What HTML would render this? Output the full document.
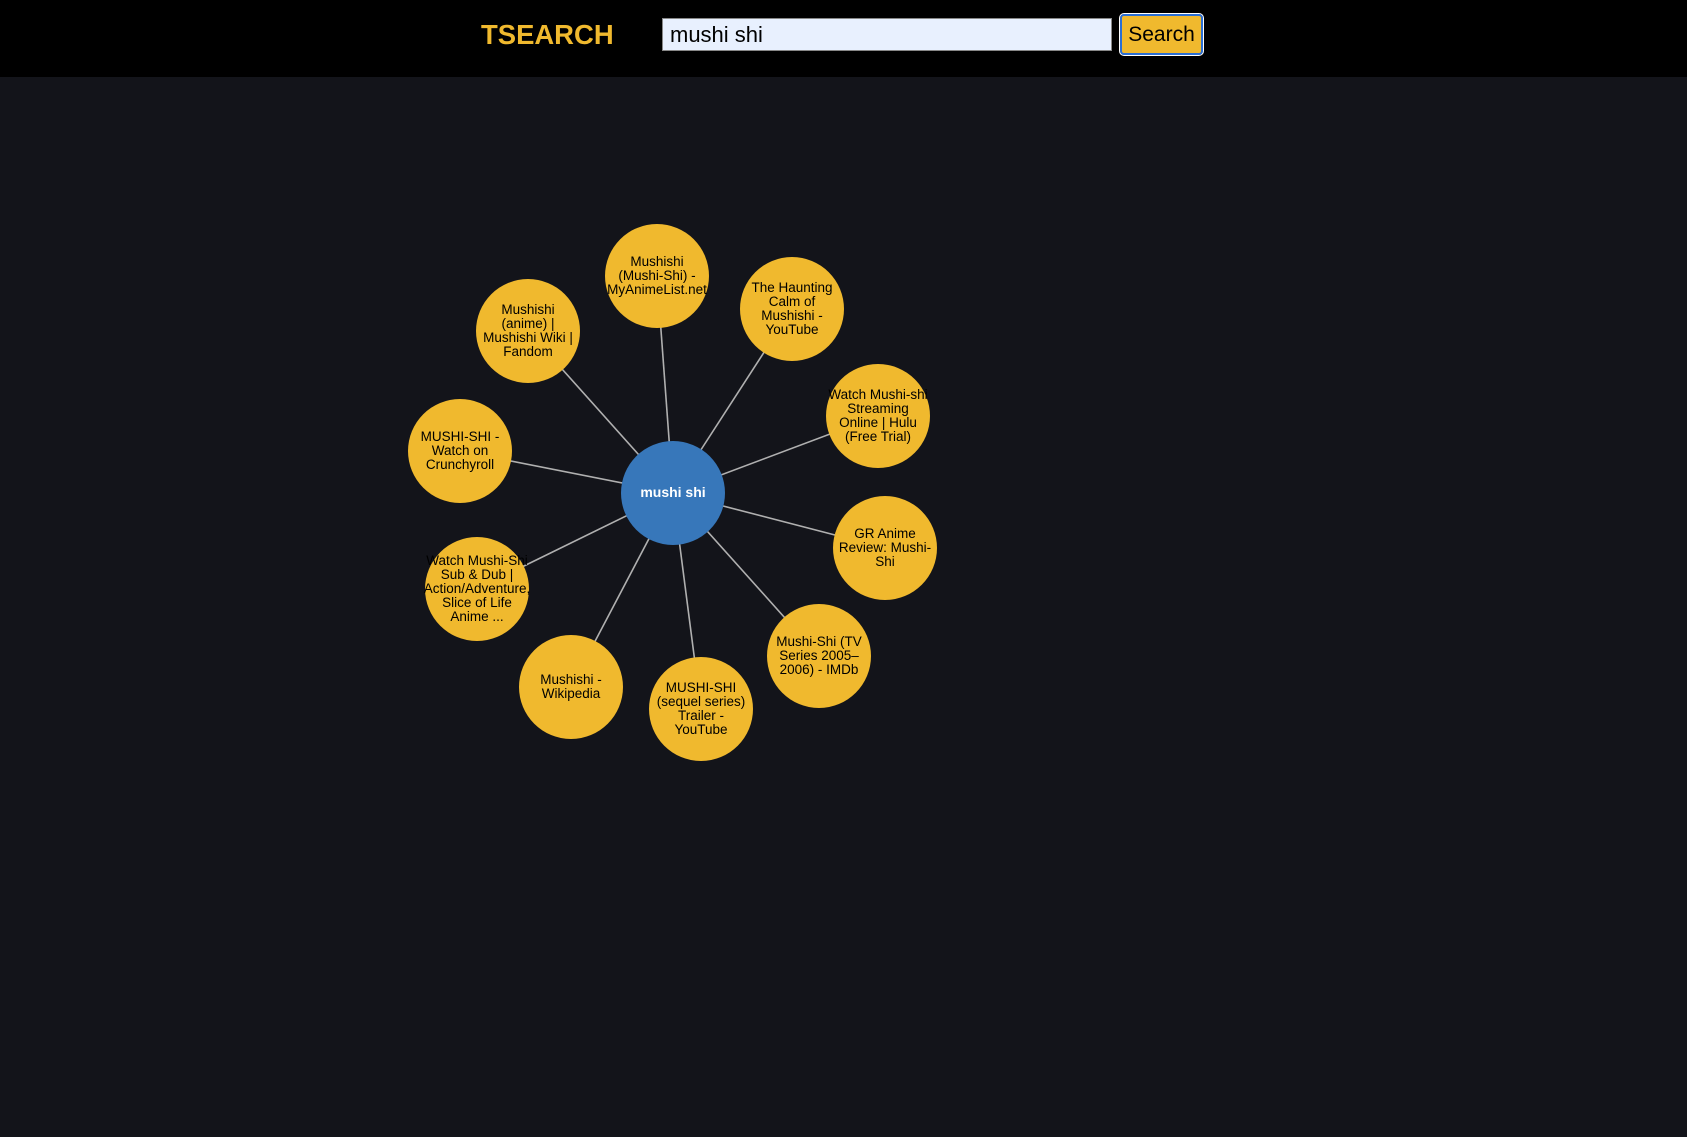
<!DOCTYPE html>
<html><head><meta charset="utf-8">
<style>
html,body{margin:0;padding:0;width:1687px;height:1137px;background:#13141a;overflow:hidden;font-family:"Liberation Sans",Arial,sans-serif;}
#hdr{position:absolute;left:0;top:0;width:1687px;height:77px;background:#000;}
#logo{position:absolute;left:481px;top:19px;font-size:28px;font-weight:bold;color:#f0b92e;transform:scaleX(0.98);transform-origin:left top;}
#q{position:absolute;left:662px;top:18px;width:450px;height:33px;box-sizing:border-box;border:1px solid #888;background:#e8f0fe;font-size:22px;padding:2px 7px;color:#000;font-family:"Liberation Sans",sans-serif;}
#btn{position:absolute;left:1120px;top:14px;width:83px;height:41px;box-sizing:border-box;border:2px solid #2a6ed4;outline:1px solid #fff;border-radius:4px;background:#f0b92e;font-size:21px;color:#000;font-family:"Liberation Sans",sans-serif;padding:0;}
svg{position:absolute;left:0;top:0;}
</style></head><body>
<div id="hdr">
<div id="logo">TSEARCH</div>
<input id="q" value="mushi shi">
<button id="btn">Search</button>
</div>
<svg id="g" width="1687" height="1137"></svg>
<script>
const centerLabel = "mushi shi";
const centerPos = [673, 493];
const labels = [
 ["Mushishi","(Mushi-Shi) -","MyAnimeList.net"],
 ["The Haunting","Calm of","Mushishi -","YouTube"],
 ["Watch Mushi-shi","Streaming","Online | Hulu","(Free Trial)"],
 ["GR Anime","Review: Mushi-","Shi"],
 ["Mushi-Shi (TV","Series 2005–","2006) - IMDb"],
 ["MUSHI-SHI","(sequel series)","Trailer -","YouTube"],
 ["Mushishi -","Wikipedia"],
 ["Watch Mushi-Shi","Sub & Dub |","Action/Adventure,","Slice of Life","Anime ..."],
 ["MUSHI-SHI -","Watch on","Crunchyroll"],
 ["Mushishi","(anime) |","Mushishi Wiki |","Fandom"]
];
const nodeX = [657,792,878,885,819,701,571,477,460,528];
const nodeY = [276,309,416,548,656,709,687,589,451,331];
const NS="http://www.w3.org/2000/svg";
const svg=document.getElementById('g');
const R=52;
function mk(t,a){const e=document.createElementNS(NS,t);for(const k in a)e.setAttribute(k,a[k]);return e;}
for(let i=0;i<labels.length;i++){
 const l=mk('line',{x1:centerPos[0],y1:centerPos[1],x2:nodeX[i],y2:nodeY[i],stroke:'#b0b0b0','stroke-width':1.6});
 
 
 svg.appendChild(l);
}
function node(x,y,fill,lines,color,bold,name){
 const g=mk('g',{});
 
 
 g.appendChild(mk('circle',{cx:x,cy:y,r:R,fill:fill}));
 const lh=14;const y0=y-(lines.length-1)*lh/2+4;
 lines.forEach((s,j)=>{const t=mk('text',{x:x,y:y0+j*lh,'text-anchor':'middle','font-size':bold?14:13.5,fill:color,'font-weight':bold?'bold':'normal','font-family':'Liberation Sans, sans-serif'});t.textContent=s;g.appendChild(t);});
 svg.appendChild(g);
}
for(let i=0;i<labels.length;i++){node(nodeX[i],nodeY[i],'#f0b92e',labels[i],'#000',false,'result-node');}
node(centerPos[0],centerPos[1],'#3777ba',[centerLabel],'#fff',true,'query-node');
</script>
</body></html>
